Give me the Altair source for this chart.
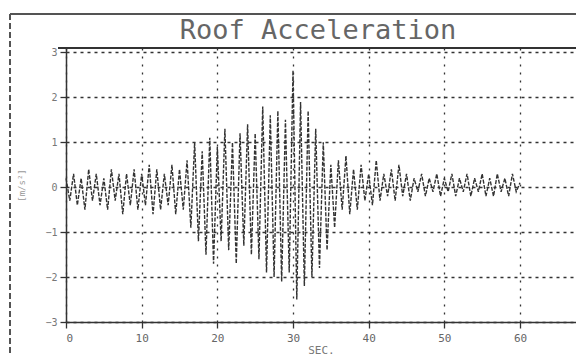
import altair as alt
import pandas as pd

# time [sec], step 0.5 s, peak values
acc = [
    0.2, -0.3, 0.3, -0.4, 0.2, -0.5, 0.4, -0.3, 0.3, -0.4,
    0.2, -0.5, 0.4, -0.3, 0.3, -0.6, 0.3, -0.4, 0.4, -0.5,
    0.3, -0.4, 0.5, -0.6, 0.4, -0.5, 0.3, -0.4, 0.5, -0.6,
    0.4, -0.5, 0.6, -0.9, 1.0, -1.2, 0.8, -1.5, 1.1, -1.7,
    0.9, -1.2, 1.3, -1.4, 1.0, -1.7, 1.2, -1.3, 1.4, -1.5,
    1.2, -1.6, 1.8, -1.9, 1.6, -2.0, 1.7, -2.1, 1.5, -1.9,
    2.6, -2.5, 1.9, -2.2, 1.7, -2.0, 1.3, -1.8, 1.0, -1.4,
    0.5, -0.9, 0.6, -0.5, 0.7, -0.6, 0.4, -0.5, 0.5, -0.3,
    0.3, -0.4, 0.6, -0.3, 0.3, -0.2, 0.4, -0.3, 0.5, -0.2,
    0.3, -0.3, 0.2, -0.1, 0.3, -0.2, 0.2, -0.1, 0.3, -0.2,
    0.2, -0.1, 0.3, -0.2, 0.2, -0.1, 0.3, -0.2, 0.2, -0.1,
    0.3, -0.2, 0.2, -0.2, 0.3, -0.1, 0.2, -0.2, 0.3, -0.1,
    0.1,
]
times = [i * 0.5 for i in range(len(acc))]

x_ticks = [0, 10, 20, 30, 40, 50, 60]
y_ticks = [-3, -2, -1, 0, 1, 2, 3]
title_text = ["Roof Acceleration"]

df = pd.DataFrame({"t": times, "a": acc})
tdf = pd.DataFrame({"label": title_text})

FONT = "DejaVu Sans Mono"
INK = "#333333"

line = alt.Chart(df).mark_line(color=INK, strokeWidth=1.4, strokeDash=[4, 1.5]).encode(
    x=alt.X("t:Q", scale=alt.Scale(domain=[0, 67.4], nice=False, zero=False),
            axis=alt.Axis(values=x_ticks, title="SEC.", grid=True,
                          gridDash=[2, 6], gridColor=INK, gridWidth=1.3,
                          domainColor=INK, domainWidth=1.5,
                          tickColor=INK, tickSize=6, tickWidth=1.3,
                          labelFont=FONT, labelFontSize=11, labelColor="#666",
                          labelPadding=4,
                          titleFont=FONT, titleFontSize=11, titleColor="#777",
                          titleFontWeight="normal", titlePadding=1)),
    y=alt.Y("a:Q", scale=alt.Scale(domain=[-3, 3.1], nice=False, zero=False),
            axis=alt.Axis(values=y_ticks, title="[m/s²]", grid=True,
                          gridDash=[3, 4], gridColor=INK, gridWidth=1.3,
                          domainColor=INK, domainWidth=1.5,
                          tickColor=INK, tickSize=6, tickWidth=1.3,
                          labelFont=FONT, labelFontSize=10, labelColor="#777",
                          labelPadding=3,
                          titleFont=FONT, titleFontSize=9, titleColor="#999",
                          titleFontWeight="normal", titlePadding=18)),
)

title = alt.Chart(tdf).mark_text(font=FONT, fontSize=27, color="#666",
                                 baseline="bottom", align="center").encode(
    text="label:N", x=alt.value(252), y=alt.value(-3)
)

top_border = alt.Chart(df).mark_rule(color=INK, strokeWidth=1.5).encode(
    x=alt.value(-8), x2=alt.value(510), y=alt.value(0)
)
frame_top = alt.Chart(df).mark_rule(color="#555", strokeWidth=1.5).encode(
    x=alt.value(-56), x2=alt.value(510), y=alt.value(-34)
)
frame_left = alt.Chart(df).mark_rule(color="#555", strokeWidth=1.3, strokeDash=[6, 3]).encode(
    x=alt.value(-56), y=alt.value(-34), y2=alt.value(320)
)

chart = alt.layer(line, title, top_border, frame_top, frame_left).properties(
    width=510, height=274,
    autosize=alt.AutoSizeParams(type="none"),
    padding={"left": 58, "top": 40, "right": 0, "bottom": 34},
).configure_view(stroke=None).configure(background="white")

chart.save("out.html", embed_options={"renderer": "svg", "actions": False})
